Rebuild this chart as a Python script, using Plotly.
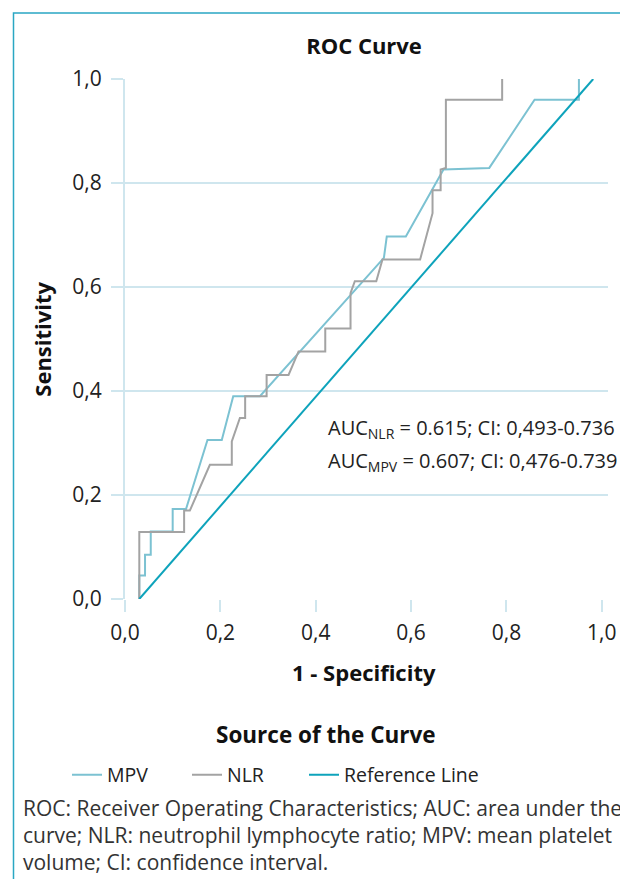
import plotly.graph_objects as go

# ---- data ----
mpv_x = [0.030, 0.030, 0.042, 0.042, 0.054, 0.054, 0.100, 0.100, 0.128, 0.173, 0.203, 0.227,
         0.283, 0.543, 0.549, 0.589, 0.668, 0.764, 0.859, 0.952, 0.952]
mpv_y = [0.000, 0.045, 0.045, 0.085, 0.085, 0.130, 0.130, 0.173, 0.173, 0.306, 0.306, 0.390,
         0.390, 0.656, 0.697, 0.697, 0.826, 0.829, 0.960, 0.960, 1.000]

nlr_x = [0.030, 0.030, 0.124, 0.124, 0.136, 0.178, 0.224, 0.224, 0.241, 0.252, 0.252, 0.297,
         0.297, 0.343, 0.364, 0.420, 0.420, 0.473, 0.473, 0.482, 0.527, 0.540, 0.619, 0.645,
         0.645, 0.662, 0.662, 0.673, 0.673, 0.791, 0.791]
nlr_y = [0.000, 0.129, 0.129, 0.170, 0.170, 0.258, 0.258, 0.303, 0.348, 0.348, 0.390, 0.390,
         0.431, 0.431, 0.476, 0.476, 0.520, 0.520, 0.588, 0.611, 0.611, 0.653, 0.653, 0.742,
         0.786, 0.786, 0.826, 0.829, 0.960, 0.960, 1.000]

ref_x = [0.030, 0.982]
ref_y = [0.0, 1.0]

tick_vals = [0.0, 0.2, 0.4, 0.6, 0.8, 1.0]
tick_text = ["0,0", "0,2", "0,4", "0,6", "0,8", "1,0"]

auc_lines = ["AUC<sub>NLR</sub> = 0.615; CI: 0,493-0.736",
             "AUC<sub>MPV</sub> = 0.607; CI: 0,476-0.739"]
footer_lines = ["ROC: Receiver Operating Characteristics; AUC: area under the",
                "curve; NLR: neutrophil lymphocyte ratio; MPV: mean platelet",
                "volume; CI: confidence interval."]

# ---- styling ----
FONT = "Open Sans"
GRID = "#cfe6ee"
C_MPV = "#7cc2d2"
C_NLR = "#a3a3a3"
C_REF = "#0ea3bb"
TXT = "#222222"

OFF = 8                      # page body margin
W, H = 628 - OFF, 879 - OFF
PLOT_L, PLOT_R, PLOT_T, PLOT_B = 125, 608, 79.3, 599.3   # page pixels
L = PLOT_L - OFF
R = W - (PLOT_R - OFF)
T = PLOT_T - OFF
B = H - (PLOT_B - OFF)
PW, PH = PLOT_R - PLOT_L, PLOT_B - PLOT_T


def px2paper(px, py):
    return (px - PLOT_L) / PW, (PLOT_B - py) / PH


def px2cont(px, py):
    return (px - OFF) / W, 1 - (py - OFF) / H


fig = go.Figure()
fig.add_trace(go.Scatter(x=mpv_x, y=mpv_y, mode="lines", name="MPV", legend="legend",
                         line=dict(color=C_MPV, width=2)))
fig.add_trace(go.Scatter(x=nlr_x, y=nlr_y, mode="lines", name="NLR", legend="legend2",
                         line=dict(color=C_NLR, width=2)))
fig.add_trace(go.Scatter(x=ref_x, y=ref_y, mode="lines", name="Reference Line", legend="legend3",
                         line=dict(color=C_REF, width=2)))

annotations = []


def add_text(px, py, text, size, xanchor="center", angle=0, color="#111"):
    x_, y_ = px2paper(px, py)
    annotations.append(dict(x=x_, y=y_, xref="paper", yref="paper", text=text,
                            xanchor=xanchor, yanchor="middle", textangle=angle,
                            showarrow=False, font=dict(size=size, color=color)))


add_text(42, 340, "<b>Sensitivity</b>", 22, angle=-90)
add_text(364, 672, "<b>1 - Specificity</b>", 22)
add_text(326, 735, "<b>Source of the Curve</b>", 22.5)
for i, t in enumerate(auc_lines):
    add_text(326, 429 + 33 * i, t, 20, xanchor="left", color=TXT)
for i, t in enumerate(footer_lines):
    add_text(21, 808 + 27 * i, t, 21, xanchor="left", color="#333333")

fx0, fy0 = px2paper(13.5, 13.3)
fx1, fy1 = px2paper(700, 950)

tx, ty = px2cont(364, 46)


def legend_at(px):
    lx, ly = px2cont(px, 775)
    return dict(orientation="h", xref="container", yref="container",
                x=lx, y=ly, xanchor="left", yanchor="middle",
                font=dict(size=19.5, color=TXT), bgcolor="rgba(0,0,0,0)")


fig.update_layout(
    width=W, height=H,
    margin=dict(l=L, r=R, t=T, b=B),
    paper_bgcolor="white", plot_bgcolor="white",
    font=dict(family=FONT, color=TXT, size=16),
    title=dict(text="<b>ROC Curve</b>", x=tx, xref="container", y=ty, yref="container",
               xanchor="center", yanchor="middle", font=dict(size=22, color="#111")),
    xaxis=dict(range=[0, 1.013], tickvals=tick_vals, ticktext=tick_text,
               showgrid=False, zeroline=False, showline=False,
               ticks="outside", ticklen=12, tickwidth=2, tickcolor=GRID,
               ticklabelstandoff=3, tickfont=dict(size=21, color=TXT)),
    yaxis=dict(range=[0, 1.0], tickvals=tick_vals, ticktext=tick_text,
               showgrid=True, gridcolor=GRID, gridwidth=2, zeroline=False,
               showline=True, linecolor=GRID, linewidth=2,
               ticks="outside", ticklen=12, tickwidth=2, tickcolor=GRID,
               ticklabelstandoff=5, tickfont=dict(size=21, color=TXT)),
    showlegend=True,
    legend=legend_at(67),
    legend2=legend_at(187),
    legend3=legend_at(304),
    annotations=annotations,
    shapes=[dict(type="rect", xref="paper", yref="paper", x0=fx0, y0=fy0, x1=fx1, y1=fy1,
                 line=dict(color="#2aa7c3", width=1.5), fillcolor="rgba(0,0,0,0)", layer="below")],
)

fig.write_html("out.html")
